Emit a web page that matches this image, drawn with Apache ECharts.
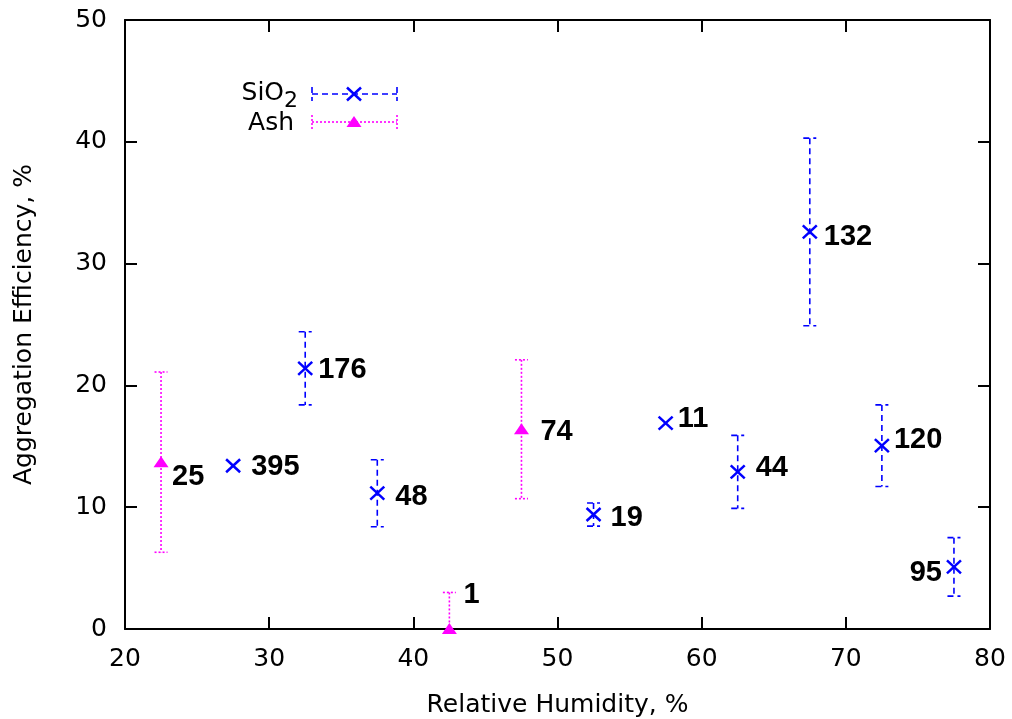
<!DOCTYPE html>
<html>
<head>
<meta charset="utf-8">
<script src="https://cdn.jsdelivr.net/npm/echarts@6/dist/echarts.min.js"></script>
<style>
  html, body { margin: 0; padding: 0; background: #fff; }
  #chart { width: 1012px; height: 719px; }
</style>
</head>
<body>
<div id="chart"></div>
<script>
// SiO2 particles: relative humidity (%), aggregation efficiency (%), symmetric error, number of events
const sio2Humidity   = [27.5, 32.5, 37.5, 52.5, 57.5, 62.5, 67.5, 72.5, 77.5];
const sio2Efficiency = [13.4, 21.4, 11.15, 9.4, 16.9, 12.9, 32.6, 15.05, 5.1];
const sio2Error      = [0, 3.0, 2.75, 0.95, 0, 3.0, 7.7, 3.35, 2.4];
const sio2Counts     = [395, 176, 48, 19, 11, 44, 132, 120, 95];

// Ash particles
const ashHumidity   = [22.5, 42.5, 47.5];
const ashEfficiency = [13.7, 0, 16.4];
const ashError      = [7.4, 3.0, 5.7];
const ashCounts     = [25, 1, 74];

// Axis ranges
const xRange = { min: 20, max: 80, step: 10 };
const yRange = { min: 0, max: 50, step: 10 };

const BLUE = '#0000ff';
const MAGENTA = '#ff00ff';
const FONT = '"DejaVu Sans", sans-serif';
const FONT_SIZE = 25;

// Where each count annotation sits relative to its point: [dx, dy, align]
const labelPlacement = {
  395: [18, 1, 'left'], 176: [13, 2, 'left'], 48: [18, 4, 'left'],
  19: [17, 3, 'left'], 11: [12, -4, 'left'], 44: [18, -4, 'left'],
  132: [14, 5, 'left'], 120: [12, -6, 'left'], 95: [-12, 6, 'right'],
  25: [11, 15, 'left'], 1: [14, -34, 'left'], 74: [19, 3, 'left']
};

function crossShape(cx, cy, color) {
  const s = { stroke: color, lineWidth: 2.5 };
  return [
    { type: 'line', shape: { x1: cx - 7, y1: cy - 6.5, x2: cx + 7, y2: cy + 6.5 }, style: s },
    { type: 'line', shape: { x1: cx - 7, y1: cy + 6.5, x2: cx + 7, y2: cy - 6.5 }, style: s }
  ];
}
function triangleShape(cx, cy, color) {
  return [{ type: 'polygon', shape: { points: [[cx, cy - 6], [cx - 7.5, cy + 5], [cx + 7.5, cy + 5]] }, style: { fill: color } }];
}

function errorSeries(name, xs, ys, errs, counts, color, dash, marker) {
  return {
    type: 'custom',
    name: name,
    z: 5,
    data: xs.map((x, i) => [x, ys[i], errs[i], counts[i]]),
    renderItem: function (params, api) {
      const x = api.value(0), y = api.value(1), e = api.value(2), n = api.value(3);
      const p = api.coord([x, y]);
      const lineStyle = { stroke: color, lineWidth: 1.6, lineDash: dash };
      const children = [];
      if (e > 0) {
        const lo = Math.max(y - e, yRange.min);
        const top = api.coord([x, y + e])[1];
        const bot = api.coord([x, lo])[1];
        children.push({ type: 'line', shape: { x1: p[0], y1: top, x2: p[0], y2: bot }, style: lineStyle });
        children.push({ type: 'line', shape: { x1: p[0] - 6.5, y1: top, x2: p[0] + 6.5, y2: top }, style: lineStyle });
        if (y - e >= yRange.min) {
          children.push({ type: 'line', shape: { x1: p[0] - 6.5, y1: bot, x2: p[0] + 6.5, y2: bot }, style: lineStyle });
        }
      }
      marker(p[0], p[1], color).forEach(c => children.push(c));
      const pl = labelPlacement[n] || [14, 0, 'left'];
      children.push({
        type: 'text',
        x: p[0] + pl[0], y: p[1] + pl[1],
        style: {
          text: String(n), fill: '#000', fontSize: 29, fontWeight: 'bold',
          fontFamily: '"Liberation Sans", Arial, sans-serif',
          align: pl[2], verticalAlign: 'middle'
        }
      });
      return { type: 'group', children: children };
    }
  };
}

const axisCommon = {
  type: 'value',
  axisLine: { show: true, onZero: false, lineStyle: { color: '#000', width: 2 } },
  axisTick: { show: true, inside: true, length: 12, lineStyle: { color: '#000', width: 2 } },
  splitLine: { show: false }
};
const labelStyle = { color: '#000', fontSize: FONT_SIZE, fontFamily: FONT };

// Key drawn in the upper-left corner
function keyEntry(y, color, dash, marker) {
  const s = { stroke: color, lineWidth: 1.6, lineDash: dash };
  const items = [
    { type: 'line', shape: { x1: 312, y1: y, x2: 397, y2: y }, style: s },
    { type: 'line', shape: { x1: 312, y1: y - 7, x2: 312, y2: y + 7 }, style: s },
    { type: 'line', shape: { x1: 397, y1: y - 7, x2: 397, y2: y + 7 }, style: s }
  ];
  return items.concat(marker(354, y, color));
}

const chart = echarts.init(document.getElementById('chart'), null, { renderer: 'canvas' });
chart.setOption({
  backgroundColor: '#fff',
  animation: false,
  grid: { left: 125, right: 22, top: 20, bottom: 90, containLabel: false, outerBoundsMode: 'none' },
  xAxis: [
    Object.assign({}, axisCommon, {
      min: xRange.min, max: xRange.max, interval: xRange.step, position: 'bottom',
      axisLabel: Object.assign({ margin: 18 }, labelStyle),
      name: 'Relative Humidity, %', nameLocation: 'middle', nameGap: 64,
      nameTextStyle: labelStyle
    }),
    Object.assign({}, axisCommon, {
      min: xRange.min, max: xRange.max, interval: xRange.step, position: 'top',
      axisLabel: { show: false }
    })
  ],
  yAxis: [
    Object.assign({}, axisCommon, {
      min: yRange.min, max: yRange.max, interval: yRange.step, position: 'left',
      axisLabel: Object.assign({ margin: 18 }, labelStyle),
      name: 'Aggregation Efficiency, %', nameLocation: 'middle', nameGap: 88,
      nameTextStyle: labelStyle
    }),
    Object.assign({}, axisCommon, {
      min: yRange.min, max: yRange.max, interval: yRange.step, position: 'right',
      axisLabel: { show: false }
    })
  ],
  series: [
    errorSeries('SiO2', sio2Humidity, sio2Efficiency, sio2Error, sio2Counts, BLUE, [6, 4], crossShape),
    errorSeries('Ash', ashHumidity, ashEfficiency, ashError, ashCounts, MAGENTA, [2, 2], triangleShape)
  ],
  graphic: [
    { type: 'text', x: 284, y: 93, style: { text: 'SiO', fill: '#000', fontSize: FONT_SIZE, fontFamily: FONT, align: 'right', verticalAlign: 'middle' } },
    { type: 'text', x: 284, y: 101, style: { text: '2', fill: '#000', fontSize: 22, fontFamily: FONT, align: 'left', verticalAlign: 'middle' } },
    { type: 'text', x: 294, y: 123, style: { text: 'Ash', fill: '#000', fontSize: FONT_SIZE, fontFamily: FONT, align: 'right', verticalAlign: 'middle' } }
  ].concat(keyEntry(94, BLUE, [6, 4], crossShape), keyEntry(122, MAGENTA, [2, 2], triangleShape))
});
</script>
</body>
</html>
